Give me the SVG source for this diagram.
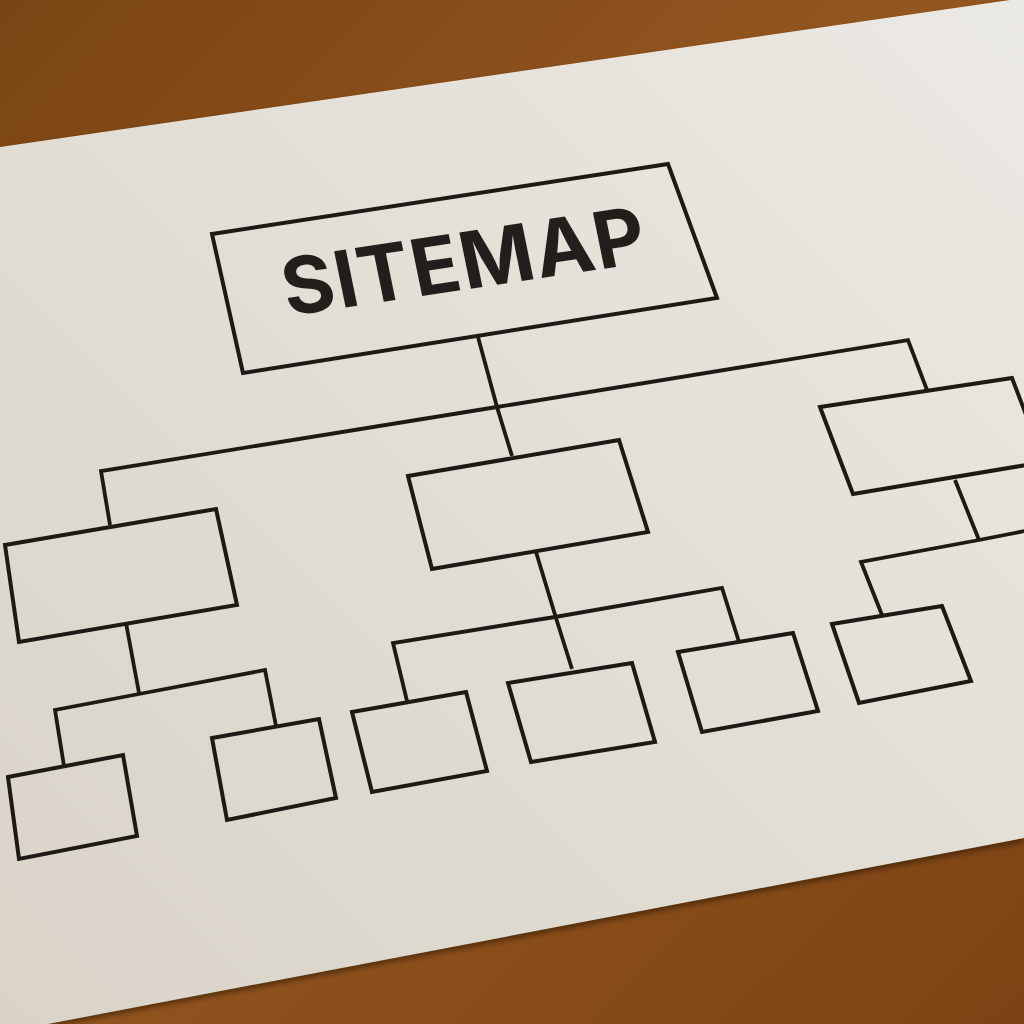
<svg xmlns="http://www.w3.org/2000/svg" width="1024" height="1024" viewBox="0 0 1024 1024">
  <defs>
    <linearGradient id="wood" x1="0" y1="0" x2="1" y2="1">
      <stop offset="0" stop-color="#7a4414"/>
      <stop offset="0.45" stop-color="#935620"/>
      <stop offset="1" stop-color="#7c4314"/>
    </linearGradient>
    <linearGradient id="paper" x1="1" y1="0" x2="0" y2="1">
      <stop offset="0" stop-color="#ebe9e4"/>
      <stop offset="0.5" stop-color="#e2ded5"/>
      <stop offset="1" stop-color="#d9d3c8"/>
    </linearGradient>
    <filter id="blur" x="-5%" y="-5%" width="110%" height="110%">
      <feGaussianBlur stdDeviation="2.5"/>
    </filter>
  </defs>
  <style>
    .box { fill: none; stroke: #1e1915; stroke-width: 4; stroke-linejoin: miter; }
    .wire { fill: none; stroke: #1e1915; stroke-width: 3.8; stroke-linejoin: miter; }
    .title { font-family: Inter, "Open Sans", "Liberation Sans", sans-serif; font-weight: 700; font-size: 79px; fill: #221e1b; }
  </style>

  <!-- table -->
  <rect x="0" y="0" width="1024" height="1024" fill="url(#wood)"/>
  <!-- paper shadow -->
  <polygon points="0,150 1024,2 1024,842 44,1028 0,1028" fill="#2a1606" opacity="0.55" filter="url(#blur)"/>
  <!-- paper -->
  <polygon points="0,147 1010,0 1024,0 1024,838 48,1024 0,1024" fill="url(#paper)"/>

  <!-- connectors -->
  <g id="connectors">
    <polyline class="wire" points="478,337 497,407 512,456"/>
    <polyline class="wire" points="110,525 101,471 497,407 908,340 927,390"/>
    <polyline class="wire" points="536,552 556,618 572,669"/>
    <polyline class="wire" points="407,701 393,643 555,617 722,588 739,642"/>
    <polyline class="wire" points="126,623 139,693"/>
    <polyline class="wire" points="64,766 55,710 139,694 265,670 276,726"/>
    <polyline class="wire" points="955,480 979,540"/>
    <polyline class="wire" points="882,615 861,562 979,540 1030,530"/>
  </g>

  <!-- nodes -->
  <g id="root">
    <polygon class="box" points="212,234 668,164 717,298 243,373"/>
    <text class="title" transform="matrix(0.989,-0.148,0.2,0.98,288,316)" textLength="366" lengthAdjust="spacing">SITEMAP</text>
  </g>
  <g id="left">
    <polygon class="box" points="5,545 216,509 237,605 19,642"/>
  </g>
  <g id="left-a">
    <polygon class="box" points="8,777 123,755 137,836 19,859"/>
  </g>
  <g id="left-b">
    <polygon class="box" points="212,738 319,719 336,798 227,820"/>
  </g>
  <g id="middle">
    <polygon class="box" points="408,476 619,440 648,532 432,569"/>
  </g>
  <g id="middle-a">
    <polygon class="box" points="352,712 466,692 487,771 372,792"/>
  </g>
  <g id="middle-b">
    <polygon class="box" points="508,683 632,663 655,742 531,762"/>
  </g>
  <g id="middle-c">
    <polygon class="box" points="678,652 793,633 818,711 702,732"/>
  </g>
  <g id="right">
    <polygon class="box" points="820,407 1012,378 1044,462 853,494"/>
  </g>
  <g id="right-a">
    <polygon class="box" points="832,624 942,606 971,681 859,703"/>
  </g>
</svg>
